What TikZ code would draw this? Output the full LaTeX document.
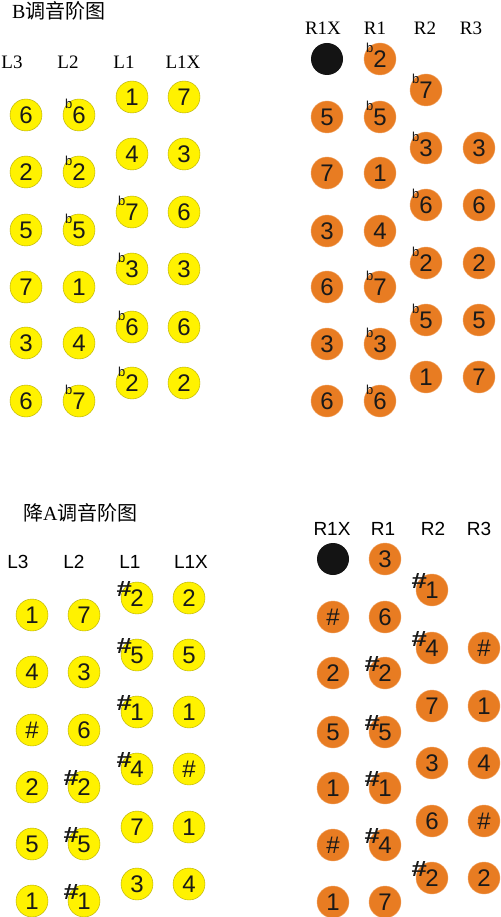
\documentclass[tikz,border=0pt]{standalone}
\usepackage{fontspec}
\setmainfont{Liberation Serif}
\newfontfamily\arial{Liberation Sans}
\newfontfamily\cjk{Noto Sans CJK SC}

\definecolor{keyyellow}{RGB}{255,242,0}
\definecolor{keyorange}{RGB}{232,124,34}

% small flat before a digit, sharp before a digit
\newcommand{\fb}[1]{\makebox[0pt][r]{\smash{\raisebox{15pt}{\fontsize{13pt}{13pt}\selectfont b}}}#1}
\newcommand{\sh}[1]{\makebox[0pt][r]{\smash{\raisebox{10pt}{\scalebox{1.25}[1]{\bfseries\fontsize{22pt}{22pt}\selectfont\#}}}\kern-1.7pt}#1}

\tikzset{
  lkey/.style={circle, draw=keyyellow!70!black, line width=0.4pt, fill=keyyellow,
    minimum size=32pt, inner sep=0pt, text=black!90,
    font=\arial\fontsize{24pt}{24pt}\selectfont},
  rkey/.style={lkey, draw=keyorange!70!white, fill=keyorange},
  thumb/.style={circle, fill=black!92, minimum size=32pt, inner sep=0pt},
  head/.style={inner sep=0pt, font=\fontsize{19pt}{19pt}\selectfont},
  ahead/.style={inner sep=0pt, font=\arial\fontsize{19pt}{19pt}\selectfont},
  chart/.style={inner sep=0pt, anchor=west, font=\fontsize{20pt}{20pt}\selectfont}
}

\begin{document}
\begin{tikzpicture}[x=1pt, y=-1pt]
    \useasboundingbox (0,0) rectangle (500,917);

    % B chart: title and column heads
    \node[chart] (B-title) at (12,11) {B{\cjk 调音阶图}};
    \node[head] (B-hL3) at (12,62) {L3};
    \node[head] (B-hL2) at (68,62) {L2};
    \node[head] (B-hL1) at (124,62) {L1};
    \node[head] (B-hL1X) at (183,62) {L1X};
    \node[head] (B-hR1X) at (323,28) {R1X};
    \node[head] (B-hR1) at (375,28) {R1};
    \node[head] (B-hR2) at (425,28) {R2};
    \node[head] (B-hR3) at (471,28) {R3};

    % B chart: left hand buttons
    \node[lkey] (B-L3-1) at (26,115) {6};
    \node[lkey] (B-L3-2) at (26,172) {2};
    \node[lkey] (B-L3-3) at (26,230) {5};
    \node[lkey] (B-L3-4) at (26,287) {7};
    \node[lkey] (B-L3-5) at (26,343) {3};
    \node[lkey] (B-L3-6) at (26,401) {6};
    \node[lkey] (B-L2-1) at (79,115) {\fb{6}};
    \node[lkey] (B-L2-2) at (79,172) {\fb{2}};
    \node[lkey] (B-L2-3) at (79,230) {\fb{5}};
    \node[lkey] (B-L2-4) at (79,287) {1};
    \node[lkey] (B-L2-5) at (79,343) {4};
    \node[lkey] (B-L2-6) at (79,401) {\fb{7}};
    \node[lkey] (B-L1-1) at (132,97) {1};
    \node[lkey] (B-L1-2) at (132,154) {4};
    \node[lkey] (B-L1-3) at (132,212) {\fb{7}};
    \node[lkey] (B-L1-4) at (132,269) {\fb{3}};
    \node[lkey] (B-L1-5) at (132,327) {\fb{6}};
    \node[lkey] (B-L1-6) at (132,383) {\fb{2}};
    \node[lkey] (B-L1X-1) at (184,97) {7};
    \node[lkey] (B-L1X-2) at (184,154) {3};
    \node[lkey] (B-L1X-3) at (184,212) {6};
    \node[lkey] (B-L1X-4) at (184,269) {3};
    \node[lkey] (B-L1X-5) at (184,327) {6};
    \node[lkey] (B-L1X-6) at (184,383) {2};

    % B chart: right hand buttons
    \node[thumb] (B-R1X-0) at (327,59) {};
    \node[rkey] (B-R1X-1) at (327,117) {5};
    \node[rkey] (B-R1X-2) at (327,173) {7};
    \node[rkey] (B-R1X-3) at (327,231) {3};
    \node[rkey] (B-R1X-4) at (327,287) {6};
    \node[rkey] (B-R1X-5) at (327,344) {3};
    \node[rkey] (B-R1X-6) at (327,401) {6};
    \node[rkey] (B-R1-0) at (380,59) {\fb{2}};
    \node[rkey] (B-R1-1) at (380,117) {\fb{5}};
    \node[rkey] (B-R1-2) at (380,173) {1};
    \node[rkey] (B-R1-3) at (380,231) {4};
    \node[rkey] (B-R1-4) at (380,287) {\fb{7}};
    \node[rkey] (B-R1-5) at (380,344) {\fb{3}};
    \node[rkey] (B-R1-6) at (380,401) {\fb{6}};
    \node[rkey] (B-R2-1) at (426,90) {\fb{7}};
    \node[rkey] (B-R2-2) at (426,148) {\fb{3}};
    \node[rkey] (B-R2-3) at (426,205) {\fb{6}};
    \node[rkey] (B-R2-4) at (426,263) {\fb{2}};
    \node[rkey] (B-R2-5) at (426,320) {\fb{5}};
    \node[rkey] (B-R2-6) at (426,377) {1};
    \node[rkey] (B-R3-2) at (479,148) {3};
    \node[rkey] (B-R3-3) at (479,205) {6};
    \node[rkey] (B-R3-4) at (479,263) {2};
    \node[rkey] (B-R3-5) at (479,320) {5};
    \node[rkey] (B-R3-6) at (479,377) {7};

    % A flat chart: title and column heads
    \node[chart] (A-title) at (23,513) {{\cjk 降}A{\cjk 调音阶图}};
    \node[ahead] (A-hL3) at (18,562) {L3};
    \node[ahead] (A-hL2) at (74,562) {L2};
    \node[ahead] (A-hL1) at (130,562) {L1};
    \node[ahead] (A-hL1X) at (191,562) {L1X};
    \node[ahead] (A-hR1X) at (332,529) {R1X};
    \node[ahead] (A-hR1) at (383,529) {R1};
    \node[ahead] (A-hR2) at (433,529) {R2};
    \node[ahead] (A-hR3) at (479,529) {R3};

    % A flat chart: left hand buttons
    \node[lkey] (A-L3-1) at (32,615) {1};
    \node[lkey] (A-L3-2) at (32,672) {4};
    \node[lkey] (A-L3-3) at (32,730) {\#};
    \node[lkey] (A-L3-4) at (32,787) {2};
    \node[lkey] (A-L3-5) at (32,844) {5};
    \node[lkey] (A-L3-6) at (32,901) {1};
    \node[lkey] (A-L2-1) at (84,615) {7};
    \node[lkey] (A-L2-2) at (84,672) {3};
    \node[lkey] (A-L2-3) at (84,730) {6};
    \node[lkey] (A-L2-4) at (84,787) {\sh{2}};
    \node[lkey] (A-L2-5) at (84,844) {\sh{5}};
    \node[lkey] (A-L2-6) at (84,901) {\sh{1}};
    \node[lkey] (A-L1-1) at (137,598) {\sh{2}};
    \node[lkey] (A-L1-2) at (137,655) {\sh{5}};
    \node[lkey] (A-L1-3) at (137,712) {\sh{1}};
    \node[lkey] (A-L1-4) at (137,769) {\sh{4}};
    \node[lkey] (A-L1-5) at (137,827) {7};
    \node[lkey] (A-L1-6) at (137,884) {3};
    \node[lkey] (A-L1X-1) at (189,598) {2};
    \node[lkey] (A-L1X-2) at (189,655) {5};
    \node[lkey] (A-L1X-3) at (189,712) {1};
    \node[lkey] (A-L1X-4) at (189,769) {\#};
    \node[lkey] (A-L1X-5) at (189,827) {1};
    \node[lkey] (A-L1X-6) at (189,884) {4};

    % A flat chart: right hand buttons
    \node[thumb] (A-R1X-0) at (333,559) {};
    \node[rkey] (A-R1X-1) at (333,617) {\#};
    \node[rkey] (A-R1X-2) at (333,673) {2};
    \node[rkey] (A-R1X-3) at (333,732) {5};
    \node[rkey] (A-R1X-4) at (333,788) {1};
    \node[rkey] (A-R1X-5) at (333,845) {\#};
    \node[rkey] (A-R1X-6) at (333,902) {1};
    \node[rkey] (A-R1-0) at (385,559) {3};
    \node[rkey] (A-R1-1) at (385,617) {6};
    \node[rkey] (A-R1-2) at (385,673) {\sh{2}};
    \node[rkey] (A-R1-3) at (385,732) {\sh{5}};
    \node[rkey] (A-R1-4) at (385,788) {\sh{1}};
    \node[rkey] (A-R1-5) at (385,845) {\sh{4}};
    \node[rkey] (A-R1-6) at (385,902) {7};
    \node[rkey] (A-R2-1) at (432,590) {\sh{1}};
    \node[rkey] (A-R2-2) at (432,648) {\sh{4}};
    \node[rkey] (A-R2-3) at (432,706) {7};
    \node[rkey] (A-R2-4) at (432,763) {3};
    \node[rkey] (A-R2-5) at (432,821) {6};
    \node[rkey] (A-R2-6) at (432,878) {\sh{2}};
    \node[rkey] (A-R3-2) at (484,648) {\#};
    \node[rkey] (A-R3-3) at (484,706) {1};
    \node[rkey] (A-R3-4) at (484,763) {4};
    \node[rkey] (A-R3-5) at (484,821) {\#};
    \node[rkey] (A-R3-6) at (484,878) {2};
\end{tikzpicture}
\end{document}
